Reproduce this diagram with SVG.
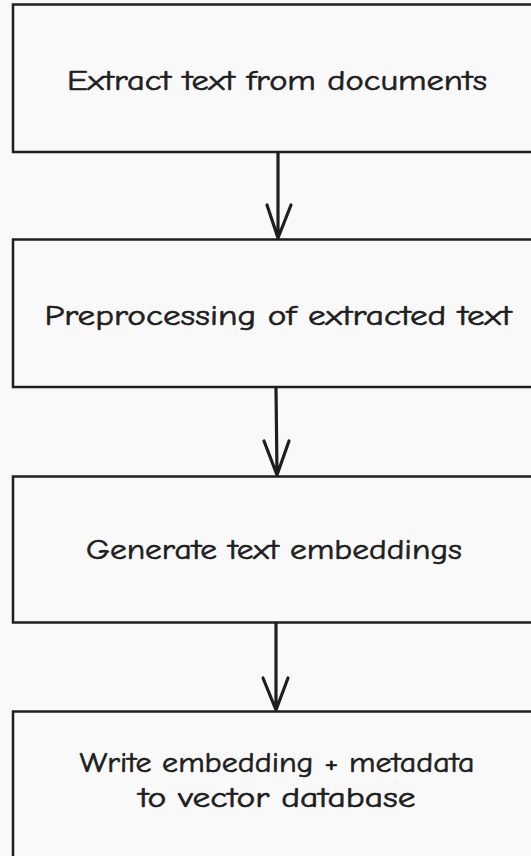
<svg xmlns="http://www.w3.org/2000/svg" width="531" height="856" viewBox="0 0 531 856">
  <style>
    .box { fill: none; stroke: #1e1e1e; stroke-width: 2.5; }
    .lbl { font-family: "Comic Neue", "Open Sans", "Liberation Sans", sans-serif; font-size: 28px; fill: #1e1e1e; stroke: #1e1e1e; stroke-width: 0.6; text-anchor: middle; }
    .edge { fill: none; stroke: #1e1e1e; stroke-width: 3.2; stroke-linecap: round; stroke-linejoin: round; }
  </style>
  <rect width="531" height="856" fill="#f9f9f9"/>

  <g id="extract">
    <rect class="box" x="13" y="4.5" width="540" height="147.5"/>
    <text class="lbl" x="277" y="90" textLength="420" lengthAdjust="spacingAndGlyphs">Extract text from documents</text>
  </g>

  <g id="preprocess">
    <rect class="box" x="13" y="239.5" width="540" height="147.5"/>
    <text class="lbl" x="278" y="325" textLength="467" lengthAdjust="spacingAndGlyphs">Preprocessing of extracted text</text>
  </g>

  <g id="embed">
    <rect class="box" x="13" y="476.5" width="540" height="146"/>
    <text class="lbl" x="274" y="559" textLength="376" lengthAdjust="spacingAndGlyphs">Generate text embeddings</text>
  </g>

  <g id="write">
    <rect class="box" x="13" y="711.5" width="540" height="160"/>
    <text class="lbl" x="277" y="772" textLength="395" lengthAdjust="spacingAndGlyphs">Write embedding + metadata</text>
    <text class="lbl" x="277" y="807" textLength="277" lengthAdjust="spacingAndGlyphs">to vector database</text>
  </g>

  <g id="connectors">
    <path class="edge" d="M278 153 L278 238 M267 205 L278 238 L291 205"/>
    <path class="edge" d="M276 388 L277 475 M264 441 L277 475 L289 441"/>
    <path class="edge" d="M276 623 L276 710 M263 678 L276 710 L288 678"/>
  </g>
</svg>
